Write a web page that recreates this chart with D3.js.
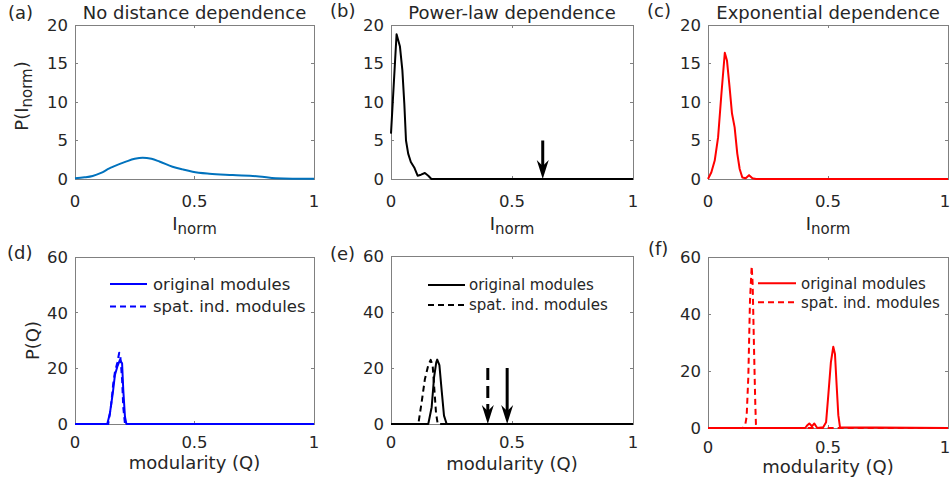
<!DOCTYPE html>
<html>
<head>
<meta charset="utf-8">
<script src="https://d3js.org/d3.v7.min.js"></script>
<style>
  body { margin: 0; background: #fff; }
  svg { display: block; font-family: "DejaVu Sans", sans-serif; }
  .frame { fill: none; stroke: #808080; stroke-width: 1; shape-rendering: crispEdges; }
  .tick { stroke: #808080; stroke-width: 1; shape-rendering: crispEdges; }
  .txt { fill: #262626; }
  .curve { fill: none; stroke-width: 2; stroke-linejoin: round; }
</style>
</head>
<body>
<div id="chart"></div>
<script>
// ---- data ----
var xTicks = [0, 0.5, 1];
var xTickLabels = ["0", "0.5", "1"];
var yTicksTop = [0, 5, 10, 15, 20];
var yTicksBottom = [0, 20, 40, 60];

// (a) no distance dependence
var noDistX = [0, 0.04, 0.074, 0.109, 0.144, 0.16, 0.213, 0.25, 0.283, 0.32, 0.353, 0.408, 0.45, 0.492, 0.562, 0.66, 0.77, 0.84, 0.91, 1];
var noDistY = [0.1, 0.22, 0.4, 0.8, 1.38, 1.6, 2.25, 2.62, 2.77, 2.62, 2.28, 1.6, 1.25, 0.95, 0.69, 0.52, 0.34, 0.1, 0.03, 0.02];

// (b) power-law dependence
var powX = [0, 0.023, 0.037, 0.047, 0.055, 0.062, 0.071, 0.082, 0.096, 0.11, 0.124, 0.14, 0.154, 0.167, 1];
var powY = [5.9, 18.8, 17.2, 14.1, 9.8, 5.0, 3.3, 2.2, 1.5, 0.43, 0.56, 0.78, 0.43, 0, 0];
var powArrowX = 0.627, powArrowTop = 5;

// (c) exponential dependence
var expX = [0, 0.014, 0.028, 0.042, 0.056, 0.07, 0.079, 0.09, 0.1, 0.111, 0.122, 0.132, 0.143, 0.157, 0.171, 0.185, 0.2, 1];
var expY = [0, 0.87, 2.4, 5.4, 11.1, 16.4, 15.4, 11.9, 8.5, 6.7, 3.3, 1.3, 0.2, 0.1, 0.5, 0.1, 0, 0];

// (d) modularity, no distance dependence
var qNoOrigX = [0, 0.135, 0.146, 0.158, 0.167, 0.177, 0.188, 0.197, 0.202, 0.209, 0.215, 1];
var qNoOrigY = [0, 0, 3.8, 11, 17.6, 20.6, 23, 21.8, 12.2, 2.6, 0, 0];
var qNoSpatX = [0, 0.139, 0.15, 0.16, 0.167, 0.177, 0.185, 0.19, 0.197, 0.202, 0.209, 1];
var qNoSpatY = [0, 0, 6, 14.5, 18.6, 22, 25.6, 24, 16, 6, 0, 0];

// (e) modularity, power-law
var qPowOrigX = [0, 0.154, 0.168, 0.178, 0.187, 0.191, 0.2, 0.21, 0.219, 0.23, 1];
var qPowOrigY = [0, 0, 6, 16.7, 22, 23, 21, 11.4, 3, 0, 0];
var qPowSpatX = [0, 0.113, 0.127, 0.14, 0.154, 0.164, 0.172, 0.179, 0.186, 0.193, 1];
var qPowSpatY = [0, 0, 8, 16, 21, 22.9, 21, 12.6, 4, 0, 0];
var qPowArrowSpat = 0.4, qPowArrowOrig = 0.48, qPowArrowTop = 20;

// (f) modularity, exponential
var qExpOrigX = [0, 0.405, 0.414, 0.422, 0.433, 0.443, 0.455, 0.48, 0.492, 0.501, 0.512, 0.522, 0.529, 0.536, 0.543, 0.55, 1];
var qExpOrigY = [0, 0, 1.0, 1.6, 0.6, 1.6, 0, 0.3, 2, 11.3, 23, 28.5, 26, 15, 4.5, 0.3, 0];
var qExpSpatX = [0, 0.145, 0.155, 0.161, 0.168, 0.175, 0.182, 0.186, 0.192, 0.197, 0.2, 0.205, 1];
var qExpSpatY = [0, 0, 1, 4, 17.9, 44.8, 56.7, 50.7, 27, 8.7, 0.6, 0, 0];

var legendNames = ["original modules", "spat. ind. modules"];

function zip(xs, ys) {
  return xs.map(function(x, i) { return {x: x, y: ys[i]}; });
}

// ---- layout ----
var W = 951, H = 485;
var svg = d3.select("#chart").append("svg").attr("width", W).attr("height", H);

var panels = [
  {tag: "(a)", tagX: 8, tagY: 19, title: "No distance dependence", l: 75, r: 314, t: 25, b: 179, yMax: 20, yTicks: yTicksTop,
   tickDy: 28, xlab: "norm", xlabY: 230, ylab: "norm", ylabX: 28, ylabY: 96,
   series: [{d: zip(noDistX, noDistY), color: "#0072BD", smooth: true}]},
  {tag: "(b)", tagX: 330, tagY: 17, title: "Power-law dependence", l: 391, r: 633, t: 25, b: 179, yMax: 20, yTicks: yTicksTop,
   tickDy: 28, xlab: "norm", xlabY: 230,
   series: [{d: zip(powX, powY), color: "#000"}],
   arrows: [{x: powArrowX, top: powArrowTop, dashed: false}]},
  {tag: "(c)", tagX: 647, tagY: 16.5, title: "Exponential dependence", l: 708, r: 948, t: 25, b: 179, yMax: 20, yTicks: yTicksTop,
   tickDy: 28, xlab: "norm", xlabY: 230,
   series: [{d: zip(expX, expY), color: "#ff0000"}]},
  {tag: "(d)", tagX: 7, tagY: 259, l: 75, r: 314, t: 257, b: 424, yMax: 60, yTicks: yTicksBottom,
   tickDy: 24, qlabY: 469, pq: true,
   series: [{d: zip(qNoOrigX, qNoOrigY), color: "#0000ff"}, {d: zip(qNoSpatX, qNoSpatY), color: "#0000ff", dashed: true}],
   legend: {x1: 110, x2: 147, y: 284, dy: 22.5, tx: 153, size: 16.5, color: "#0000ff"}},
  {tag: "(e)", tagX: 330, tagY: 259.5, l: 391, r: 633, t: 256, b: 424, yMax: 60, yTicks: yTicksBottom,
   tickDy: 24, qlabY: 470,
   series: [{d: zip(qPowOrigX, qPowOrigY), color: "#000"}, {d: zip(qPowSpatX, qPowSpatY), color: "#000", dashed: true}],
   arrows: [{x: qPowArrowSpat, top: qPowArrowTop, dashed: true}, {x: qPowArrowOrig, top: qPowArrowTop, dashed: false}],
   legend: {x1: 428, x2: 465, y: 285, dy: 20, tx: 469, size: 15, color: "#000"}},
  {tag: "(f)", tagX: 648, tagY: 255, l: 708, r: 948, t: 257, b: 428, yMax: 60, yTicks: yTicksBottom,
   tickDy: 24.5, qlabY: 473,
   series: [{d: zip(qExpSpatX, qExpSpatY), color: "#ff0000", dashed: true}, {d: zip(qExpOrigX, qExpOrigY), color: "#ff0000"}],
   legend: {x1: 758, x2: 796, y: 283.3, dy: 19, tx: 801, size: 15, color: "#ff0000"}}
];

panels.forEach(function(p) {
  var x = d3.scaleLinear().domain([0, 1]).range([p.l, p.r]);
  var y = d3.scaleLinear().domain([0, p.yMax]).range([p.b, p.t]);
  var g = svg.append("g");

  // box with inward ticks on all sides
  g.append("rect").attr("class", "frame")
    .attr("x", p.l).attr("y", p.t).attr("width", p.r - p.l).attr("height", p.b - p.t);
  xTicks.forEach(function(v) {
    g.append("line").attr("class", "tick").attr("x1", x(v)).attr("x2", x(v)).attr("y1", p.b).attr("y2", p.b - 3);
    g.append("line").attr("class", "tick").attr("x1", x(v)).attr("x2", x(v)).attr("y1", p.t).attr("y2", p.t + 3);
  });
  p.yTicks.forEach(function(v) {
    g.append("line").attr("class", "tick").attr("x1", p.l).attr("x2", p.l + 3).attr("y1", y(v)).attr("y2", y(v));
    g.append("line").attr("class", "tick").attr("x1", p.r).attr("x2", p.r - 3).attr("y1", y(v)).attr("y2", y(v));
  });

  // tick labels (keep the last one inside the page edge)
  g.selectAll(".xt").data(xTicks).enter().append("text")
    .attr("class", "txt").attr("text-anchor", "middle").attr("font-size", 16.5)
    .attr("x", function(v) { return Math.min(x(v), W - 6); }).attr("y", p.b + p.tickDy)
    .text(function(v, i) { return xTickLabels[i]; });
  g.selectAll(".yt").data(p.yTicks).enter().append("text")
    .attr("class", "txt").attr("text-anchor", "end").attr("font-size", 16.5)
    .attr("x", p.l - 7).attr("y", function(v) { return y(v); }).attr("dy", "0.36em")
    .text(function(v) { return v; });

  // curves
  p.series.forEach(function(s) {
    var line = d3.line().x(function(d) { return x(d.x); }).y(function(d) { return y(d.y); })
      .curve(s.smooth ? d3.curveMonotoneX : d3.curveLinear);
    g.append("path").datum(s.d).attr("class", "curve")
      .attr("stroke", s.color)
      .attr("stroke-dasharray", s.dashed ? "6,4" : null)
      .attr("d", line);
  });

  // arrows marking observed values
  (p.arrows || []).forEach(function(a) {
    var ax = x(a.x), tip = y(0);
    g.append("line").attr("x1", ax).attr("x2", ax).attr("y1", y(a.top)).attr("y2", tip - 12)
      .attr("stroke", "#000").attr("stroke-width", 3)
      .attr("stroke-dasharray", a.dashed ? "12,6" : null);
    g.append("path").attr("fill", "#000")
      .attr("d", "M" + ax + "," + tip + "L" + (ax - 6) + "," + (tip - 19) + "L" + ax + "," + (tip - 13) + "L" + (ax + 6) + "," + (tip - 19) + "Z");
  });

  // legend
  if (p.legend) {
    var L = p.legend;
    legendNames.forEach(function(name, i) {
      var ly = L.y + i * L.dy;
      g.append("line").attr("x1", L.x1).attr("x2", L.x2).attr("y1", ly).attr("y2", ly)
        .attr("stroke", L.color).attr("stroke-width", 2)
        .attr("stroke-dasharray", i === 1 ? "6,4" : null);
      g.append("text").attr("class", "txt").attr("font-size", L.size)
        .attr("x", L.tx).attr("y", ly).attr("dy", "0.36em").text(name);
    });
  }

  // panel tag and title
  g.append("text").attr("class", "txt").attr("font-size", 18).attr("x", p.tagX).attr("y", p.tagY).text(p.tag);
  if (p.title) {
    g.append("text").attr("class", "txt").attr("font-size", 18).attr("text-anchor", "middle")
      .attr("x", (p.l + p.r) / 2).attr("y", 19).text(p.title);
  }

  // axis labels
  if (p.xlab) {
    var t = g.append("text").attr("class", "txt").attr("font-size", 18).attr("text-anchor", "middle")
      .attr("x", (p.l + p.r) / 2).attr("y", p.xlabY);
    t.append("tspan").text("I");
    t.append("tspan").attr("font-size", 15).attr("dy", 4).text("norm");
  }
  if (p.qlabY) {
    g.append("text").attr("class", "txt").attr("font-size", 18).attr("text-anchor", "middle")
      .attr("x", (p.l + p.r) / 2).attr("y", p.qlabY).text("modularity (Q)");
  }
  if (p.ylab) {
    var yl = g.append("text").attr("class", "txt").attr("font-size", 18).attr("text-anchor", "middle")
      .attr("transform", "translate(" + p.ylabX + "," + p.ylabY + ") rotate(-90)");
    yl.append("tspan").text("P(I");
    yl.append("tspan").attr("font-size", 15).attr("dy", 4).text("norm");
    yl.append("tspan").attr("dy", -4).text(")");
  }
  if (p.pq) {
    g.append("text").attr("class", "txt").attr("font-size", 18).attr("text-anchor", "middle")
      .attr("transform", "translate(38.5," + ((p.t + p.b) / 2) + ") rotate(-90)").text("P(Q)");
  }
});
</script>
</body>
</html>
